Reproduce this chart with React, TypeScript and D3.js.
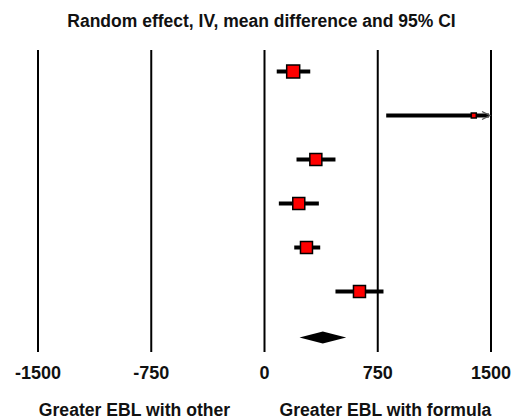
import React, { useEffect, useRef } from "react";
import * as d3 from "d3";

// study estimates (mean difference) with 95% CI
const means = [190, 1386, 340, 227, 278, 629];
const lower = [81, 806, 212, 95, 197, 470];
const upper = [303, 1800, 470, 360, 369, 788];
const boxSizes = [13, 5, 12, 12, 12, 12];

// pooled estimate
const pooled = { mean: 386, lo: 232, hi: 541 };

const ticks = [-1500, -750, 0, 750, 1500];
const title = "Random effect, IV, mean difference and 95% CI";
const leftLabel = "Greater EBL with other";
const rightLabel = "Greater EBL with formula";

const font = "Liberation Sans, Arial, sans-serif";

const App = () => {
  const ref = useRef<SVGSVGElement>(null);

  useEffect(() => {
    const svg = d3.select(ref.current);
    svg.selectAll("*").remove();

    const width = 516;
    const height = 420;
    const x = d3.scaleLinear().domain([-1500, 1500]).range([38, 491]);
    const y = d3
      .scaleBand<number>()
      .domain(d3.range(means.length + 1))
      .range([50, 358]);
    const cy = (i: number) => y(i)! + y.bandwidth() / 2 - 0.5;

    svg.attr("width", width).attr("height", height);
    svg.append("rect").attr("width", width).attr("height", height).attr("fill", "#fff");

    svg
      .append("text")
      .attr("x", 261.5)
      .attr("y", 27)
      .attr("text-anchor", "middle")
      .attr("font-family", font)
      .attr("font-weight", "bold")
      .attr("font-size", 17.5)
      .attr("fill", "#111")
      .text(title);

    // vertical reference lines
    svg
      .selectAll(".grid")
      .data(ticks)
      .enter()
      .append("line")
      .attr("x1", (d) => x(d))
      .attr("x2", (d) => x(d))
      .attr("y1", 50)
      .attr("y2", 352)
      .attr("stroke", "#000")
      .attr("stroke-width", 2);

    svg
      .selectAll(".tick")
      .data(ticks)
      .enter()
      .append("text")
      .attr("x", (d) => x(d))
      .attr("y", 379)
      .attr("text-anchor", "middle")
      .attr("font-family", font)
      .attr("font-weight", "bold")
      .attr("font-size", 18)
      .attr("fill", "#111")
      .text((d) => d);

    const rows = means.map((m, i) => ({ m, lo: lower[i], hi: upper[i], s: boxSizes[i], i }));

    // CI lines, clipped to the axis range
    svg
      .selectAll(".ci")
      .data(rows)
      .enter()
      .append("line")
      .attr("x1", (d) => x(Math.max(d.lo, -1500)))
      .attr("x2", (d) => x(Math.min(d.hi, 1500)) - (d.hi > 1500 ? 2 : 0))
      .attr("y1", (d) => cy(d.i))
      .attr("y2", (d) => cy(d.i))
      .attr("stroke", "#000")
      .attr("stroke-width", 4);

    // arrows for truncated CIs
    rows
      .filter((d) => d.hi > 1500)
      .forEach((d) => {
        const tip = x(1500) - 1;
        svg
          .append("path")
          .attr("d", `M${tip - 8},${cy(d.i) - 4}L${tip},${cy(d.i)}L${tip - 8},${cy(d.i) + 4}`)
          .attr("fill", "none")
          .attr("stroke", "#555")
          .attr("stroke-width", 1.3);
      });

    svg
      .selectAll(".box")
      .data(rows)
      .enter()
      .append("rect")
      .attr("x", (d) => x(d.m) - d.s / 2)
      .attr("y", (d) => cy(d.i) - (d.s < 8 ? 2.5 : d.s / 2))
      .attr("width", (d) => d.s)
      .attr("height", (d) => (d.s < 8 ? 5 : d.s))
      .attr("fill", "#f00")
      .attr("stroke", "#000")
      .attr("stroke-width", 1.5);

    // pooled diamond
    const dy = cy(means.length) + 2;
    svg
      .append("path")
      .attr(
        "d",
        `M${x(pooled.lo)},${dy}L${x(pooled.mean)},${dy - 6}L${x(pooled.hi)},${dy}L${x(pooled.mean)},${dy + 6}Z`
      )
      .attr("fill", "#000");

    svg
      .append("text")
      .attr("x", x(-861))
      .attr("y", 416)
      .attr("text-anchor", "middle")
      .attr("font-family", font)
      .attr("font-weight", "bold")
      .attr("font-size", 17.6)
      .attr("fill", "#111")
      .text(leftLabel);

    svg
      .append("text")
      .attr("x", x(801))
      .attr("y", 416)
      .attr("text-anchor", "middle")
      .attr("font-family", font)
      .attr("font-weight", "bold")
      .attr("font-size", 17.6)
      .attr("fill", "#111")
      .text(rightLabel);
  }, []);

  return <svg ref={ref} style={{ position: "absolute", left: 0, top: 0, display: "block" }}></svg>;
};

export default App;
